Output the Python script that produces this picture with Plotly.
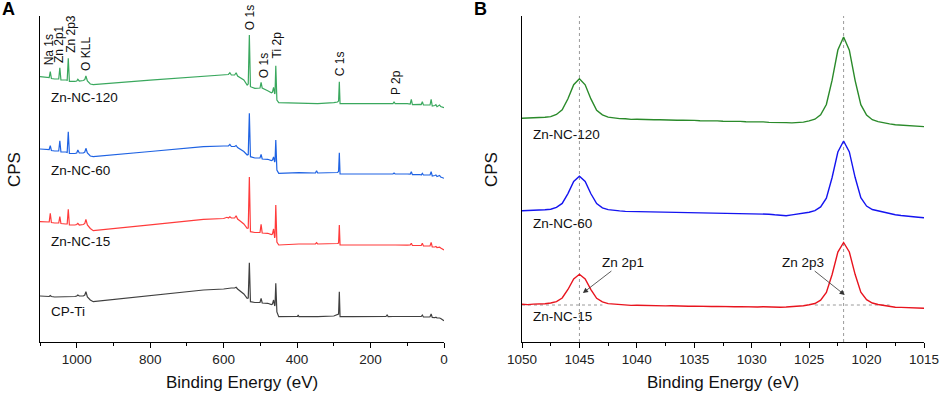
import plotly.graph_objects as go

# ---------------- Panel A: survey spectra ----------------
ev_a = [1100, 1080, 1075, 1072, 1069, 1060, 1049, 1046, 1043, 1030,
        1026, 1023, 1020, 1005, 1000, 997, 993, 982, 978, 975,
        971, 963, 955, 800, 655, 600, 591, 587, 583, 579,
        570, 566, 562, 555, 545, 536, 533, 530, 527, 515,
        505, 501, 498, 495, 480, 470, 467, 464, 461, 460,
        458, 455, 450, 400, 399, 397, 395, 350, 347, 344,
        300, 290, 287, 285, 283, 250, 200, 158, 155, 152,
        139, 136, 133, 100, 92, 89, 86, 65, 62, 59,
        56, 40, 38, 35, 32, 25, 22, 19, 15, 12,
        9, 5, 0]

cps_a_120 = [265.3, 264.5, 264.3, 270.3, 263.5, 263.0, 263.0, 274.3, 262.0, 262.0,
             261.8, 283.7, 260.7, 260.7, 261.0, 262.7, 261.0, 261.5, 262.5, 266.0,
             261.0, 258.0, 257.3, 261.8, 266.0, 267.3, 268.0, 267.5, 269.3, 267.0,
             267.0, 269.3, 266.0, 264.5, 262.0, 257.0, 258.0, 307.0, 255.3, 253.7,
             253.7, 254.0, 259.7, 254.0, 251.3, 249.3, 250.0, 254.7, 248.0, 249.0,
             276.3, 242.0, 239.3, 238.7, 238.7, 239.0, 238.5, 238.3, 238.5, 238.3,
             239.3, 240.0, 241.0, 260.3, 238.3, 238.3, 238.5, 238.3, 238.5, 238.3,
             238.3, 240.3, 238.3, 238.3, 238.0, 242.7, 237.3, 237.7, 237.5, 240.3,
             237.0, 237.0, 237.0, 242.7, 236.0, 236.5, 237.3, 235.3, 236.0, 237.0,
             235.5, 235.0, 234.3]

cps_a_60 = [193.0, 192.5, 192.5, 196.3, 191.5, 191.0, 191.0, 201.3, 190.0, 190.0,
            189.5, 210.3, 188.5, 188.5, 189.0, 192.0, 189.0, 189.0, 190.0, 193.7,
            189.0, 186.0, 185.3, 190.5, 195.3, 196.0, 196.3, 196.0, 197.5, 195.5,
            195.5, 196.5, 194.5, 193.0, 190.5, 187.0, 187.5, 228.7, 185.3, 184.0,
            183.5, 184.0, 187.7, 183.0, 182.7, 181.5, 182.0, 185.0, 180.0, 181.0,
            202.0, 172.0, 168.7, 169.3, 169.3, 169.8, 169.3, 169.0, 171.3, 169.0,
            169.0, 169.5, 170.5, 189.3, 168.0, 168.0, 168.0, 168.0, 168.5, 168.0,
            168.0, 169.0, 168.0, 168.0, 167.8, 170.3, 167.3, 167.5, 167.0, 168.7,
            167.0, 167.0, 167.0, 170.3, 166.0, 166.5, 167.0, 165.5, 166.0, 166.5,
            165.0, 164.5, 163.7]

cps_a_15 = [120.3, 120.0, 120.0, 128.7, 119.5, 119.0, 119.0, 125.3, 118.5, 118.0,
            118.0, 132.7, 117.0, 117.0, 117.5, 118.7, 117.0, 117.5, 118.5, 122.7,
            117.0, 113.5, 111.3, 117.2, 122.7, 123.5, 124.7, 124.0, 125.3, 124.0,
            124.0, 126.3, 123.0, 121.0, 118.0, 113.7, 114.0, 165.0, 110.3, 109.5,
            109.0, 109.5, 117.7, 109.0, 108.7, 107.5, 108.0, 113.0, 104.0, 106.0,
            137.0, 100.0, 97.0, 98.0, 98.0, 98.3, 98.0, 98.0, 99.3, 98.0,
            98.0, 98.5, 99.0, 117.0, 97.0, 97.0, 97.0, 97.0, 97.2, 97.0,
            97.7, 97.5, 97.0, 96.8, 97.0, 98.7, 96.5, 96.5, 96.5, 98.7,
            96.0, 96.0, 96.0, 99.7, 95.0, 95.0, 95.5, 94.5, 95.0, 94.8,
            94.0, 93.0, 92.0]

cps_a_ti = [46.0, 46.0, 45.5, 46.5, 45.5, 45.0, 45.0, 45.0, 45.0, 45.0,
            45.0, 45.0, 45.0, 45.5, 46.0, 47.0, 46.0, 46.0, 47.0, 50.3,
            45.0, 42.0, 40.3, 46.3, 52.0, 53.0, 53.7, 53.5, 54.0, 54.0,
            54.0, 54.7, 53.0, 51.0, 48.0, 43.7, 44.0, 79.3, 40.3, 39.5,
            39.0, 39.5, 43.7, 39.0, 38.7, 37.5, 38.0, 42.0, 36.0, 37.0,
            58.7, 30.0, 25.3, 25.5, 25.5, 27.0, 25.3, 25.3, 25.5, 25.3,
            26.0, 27.0, 28.0, 50.3, 25.3, 25.3, 25.3, 25.5, 27.0, 25.3,
            25.5, 25.5, 25.3, 25.3, 25.5, 26.0, 25.3, 25.5, 25.5, 27.0,
            25.0, 25.0, 25.2, 28.0, 24.5, 24.3, 24.8, 24.0, 24.3, 24.0,
            23.5, 22.5, 21.3]

series_names = ["Zn-NC-120", "Zn-NC-60", "Zn-NC-15", "CP-Ti"]

peak_labels_a = ["Na 1s", "Zn 2p1", "Zn 2p3", "O KLL", "O 1s", "O 1s", "Ti 2p", "C 1s", "P 2p"]
peak_label_ev = [1076, 1048, 1016, 975, 529, 491, 455, 284, 132]
peak_label_base = [275, 277, 287, 269, 310, 262, 282, 264, 245]

name_label_ev_a = 1075
name_label_y_a = [244.7, 172, 100.3, 30.3]

# ---------------- Panel B: Zn 2p high-resolution ----------------
ev_b = [1050.0, 1049.5, 1049.0, 1048.5, 1048.0, 1047.5, 1047.0, 1046.5, 1046.0, 1045.5,
        1045.0, 1044.5, 1044.0, 1043.5, 1043.0, 1042.5, 1042.0, 1041.5, 1041.0, 1040.5,
        1040.0, 1039.5, 1039.0, 1038.5, 1038.0, 1037.5, 1037.0, 1036.5, 1036.0, 1035.5,
        1035.0, 1034.5, 1034.0, 1033.5, 1033.0, 1032.5, 1032.0, 1031.5, 1031.0, 1030.5,
        1030.0, 1029.5, 1029.0, 1028.5, 1028.0, 1027.5, 1027.0, 1026.5, 1026.0, 1025.5,
        1025.0, 1024.5, 1024.0, 1023.5, 1023.0, 1022.5, 1022.0, 1021.5, 1021.0, 1020.5,
        1020.0, 1019.5, 1019.0, 1018.5, 1018.0, 1017.5, 1017.0, 1016.5, 1016.0, 1015.5,
        1015.0]

cps_b_120 = [223.7, 223.9, 223.7, 224.1, 224.7, 225.4, 227.5, 232.1, 243.3, 257.3,
             263.2, 257.2, 243.1, 231.8, 227.1, 224.9, 224.1, 223.4, 223.3, 222.6,
             222.7, 222.4, 222.6, 222.2, 222.3, 221.9, 222.1, 221.7, 221.9, 221.4,
             221.6, 221.2, 221.4, 220.9, 221.1, 220.7, 220.9, 220.4, 220.6, 220.2,
             220.3, 219.9, 220.1, 219.6, 219.7, 219.2, 219.4, 219.1, 219.4, 219.9,
             221.1, 222.8, 227.2, 237.5, 261.8, 292.0, 305.0, 291.9, 261.7, 237.3,
             226.9, 222.3, 220.4, 218.9, 218.1, 217.2, 216.8, 216.6, 216.1, 215.9,
             215.4]

cps_b_60 = [131.3, 131.5, 131.4, 131.7, 132.2, 132.8, 134.6, 138.6, 148.4, 160.6,
            165.8, 160.6, 148.2, 138.4, 134.1, 132.4, 131.5, 131.1, 130.6, 130.5,
            130.3, 130.4, 130.1, 130.2, 129.8, 130.0, 129.7, 129.8, 129.5, 129.6,
            129.3, 129.5, 129.1, 129.3, 128.9, 129.1, 128.8, 128.9, 128.6, 128.8,
            128.7, 128.4, 128.2, 127.8, 127.2, 126.6, 126.3, 127.1, 127.8, 128.5,
            129.8, 131.4, 135.1, 143.9, 164.5, 190.0, 201.0, 190.1, 164.7, 144.4,
            135.9, 132.5, 131.1, 129.7, 128.6, 127.2, 126.5, 125.7, 125.2, 124.8,
            124.3]

cps_b_15 = [37.7, 37.4, 37.9, 37.9, 38.3, 39.0, 40.4, 44.0, 52.5, 63.1,
            67.7, 63.0, 52.4, 43.7, 40.2, 38.4, 37.9, 37.3, 37.2, 36.6,
            36.7, 36.5, 36.6, 36.3, 36.4, 36.1, 36.3, 35.9, 36.1, 35.8,
            35.9, 35.6, 35.8, 35.5, 35.6, 35.3, 35.5, 35.2, 35.4, 35.1,
            35.3, 35.0, 35.2, 34.9, 35.1, 34.8, 35.0, 35.3, 35.6, 36.2,
            37.2, 38.5, 41.8, 49.5, 67.5, 89.9, 99.5, 90.0, 67.7, 49.9,
            42.3, 39.0, 37.5, 36.4, 35.6, 34.8, 34.6, 34.3, 34.1, 33.8,
            33.7]

zn_peaks_b = [1045, 1022]
name_label_ev_b = 1049.2
name_label_y_b = [208, 118.7, 25.3]

FONT = "Arial, 'Liberation Sans', Helvetica, sans-serif"
colors_a = ["#3aa85e", "#1f63e3", "#ff3b3b", "#404040"]
colors_b = ["#2a8a2a", "#1414f0", "#e8141e"]

fig = go.Figure()

for ys, c, n in zip([cps_a_120, cps_a_60, cps_a_15, cps_a_ti], colors_a, series_names):
    fig.add_trace(go.Scatter(x=ev_a, y=ys, mode="lines", name=n,
                             line=dict(color=c, width=1.2), xaxis="x", yaxis="y",
                             showlegend=False, hoverinfo="skip"))

for ys, c, n in zip([cps_b_120, cps_b_60, cps_b_15], colors_b, series_names[:3]):
    fig.add_trace(go.Scatter(x=ev_b, y=ys, mode="lines", name=n,
                             line=dict(color=c, width=1.4), xaxis="x2", yaxis="y2",
                             showlegend=False, hoverinfo="skip"))

W, H = 941, 393
ydom = [(H - 342) / H, (H - 16) / H]
YMAX = 326

common_x = dict(showgrid=False, zeroline=False, showline=True, linecolor="black",
                linewidth=1.3, ticks="outside", ticklen=5, tickwidth=1.2, tickcolor="black",
                automargin=False, ticklabeloverflow="allow",
                tickfont=dict(family=FONT, size=13.5, color="#222"))
common_y = dict(showgrid=False, zeroline=False, showline=True, linecolor="black",
                linewidth=1.3, ticks="", showticklabels=False, range=[0, YMAX], domain=ydom,
                automargin=False)

fig.update_layout(
    template="none",
    width=W, height=H, margin=dict(l=0, r=0, t=0, b=0, pad=0), autosize=False,
    paper_bgcolor="white", plot_bgcolor="white",
    xaxis=dict(domain=[40 / W, 444 / W], range=[1100, 0], tick0=0, dtick=200,
               minor=dict(ticks="outside", ticklen=3, tickwidth=1, tickcolor="black", dtick=100, tick0=0),
               anchor="y", **common_x),
    yaxis=dict(anchor="x", **common_y),
    xaxis2=dict(domain=[522 / W, 924 / W], range=[1050, 1015], tick0=1015, dtick=5,
                minor=dict(ticks="outside", ticklen=3, tickwidth=1, tickcolor="black", dtick=2.5, tick0=1015),
                anchor="y2", **common_x),
    yaxis2=dict(anchor="x2", **common_y),
)

# dotted reference lines in B
shapes = []
dot = dict(color="#9a9a9a", width=1, dash="dot")
for p in zn_peaks_b:
    shapes.append(dict(type="line", xref="x2", yref="y2", x0=p, x1=p, y0=0, y1=YMAX,
                       line=dot, layer="below"))
shapes.append(dict(type="line", xref="x2", yref="y2", x0=1050, x1=1043, y0=37, y1=37,
                   line=dot, layer="below"))
shapes.append(dict(type="line", xref="x2", yref="y2", x0=1024.5, x1=1018, y0=37, y1=37,
                   line=dot, layer="below"))
fig.update_layout(shapes=shapes)

ann = []
txt = dict(family=FONT, color="#111")
# peak labels A (rotated)
for t, xv, yv in zip(peak_labels_a, peak_label_ev, peak_label_base):
    ann.append(dict(x=xv, y=yv, xref="x", yref="y", text=t, showarrow=False, textangle=-90,
                    xanchor="center", yanchor="bottom", font=dict(size=12, **txt)))
# series names A
for t, yv in zip(series_names, name_label_y_a):
    ann.append(dict(x=name_label_ev_a, y=yv, xref="x", yref="y", text=t, showarrow=False,
                    xanchor="left", yanchor="middle", font=dict(size=13.5, **txt)))
# series names B
for t, yv in zip(series_names[:3], name_label_y_b):
    ann.append(dict(x=name_label_ev_b, y=yv, xref="x2", yref="y2", text=t, showarrow=False,
                    xanchor="left", yanchor="middle", font=dict(size=13.5, **txt)))
# arrow annotations B
ann.append(dict(x=1044.7, y=49, xref="x2", yref="y2", ax=1041.2, ay=80, axref="x2", ayref="y2",
                text="Zn 2p1", showarrow=True, arrowhead=2, arrowsize=1.3, arrowwidth=0.8,
                arrowcolor="#333", font=dict(size=13.5, **txt)))
ann.append(dict(x=1021.9, y=47, xref="x2", yref="y2", ax=1025.5, ay=80, axref="x2", ayref="y2",
                text="Zn 2p3", showarrow=True, arrowhead=2, arrowsize=1.3, arrowwidth=0.8,
                arrowcolor="#333", font=dict(size=13.5, **txt)))
# axis titles
for xc in [242 / W, 723 / W]:
    ann.append(dict(x=xc, y=(H - 382) / H, xref="paper", yref="paper", text="Binding Energy (eV)",
                    showarrow=False, xanchor="center", yanchor="middle", font=dict(size=17, **txt)))
for xc in [14 / W, 491 / W]:
    ann.append(dict(x=xc, y=(H - 170) / H, xref="paper", yref="paper", text="CPS", textangle=-90,
                    showarrow=False, xanchor="center", yanchor="middle", font=dict(size=17, **txt)))
# panel letters
for t, xc in [("A", 8.5 / W), ("B", 480 / W)]:
    ann.append(dict(x=xc, y=(H - 9) / H, xref="paper", yref="paper", text="<b>%s</b>" % t,
                    showarrow=False, xanchor="center", yanchor="middle",
                    font=dict(size=18, family=FONT, color="black")))
fig.update_layout(annotations=ann)

fig.write_html("out.html", config={"displayModeBar": False, "responsive": False},
               post_script="document.body.style.margin='0px';document.body.style.overflow='hidden';")
